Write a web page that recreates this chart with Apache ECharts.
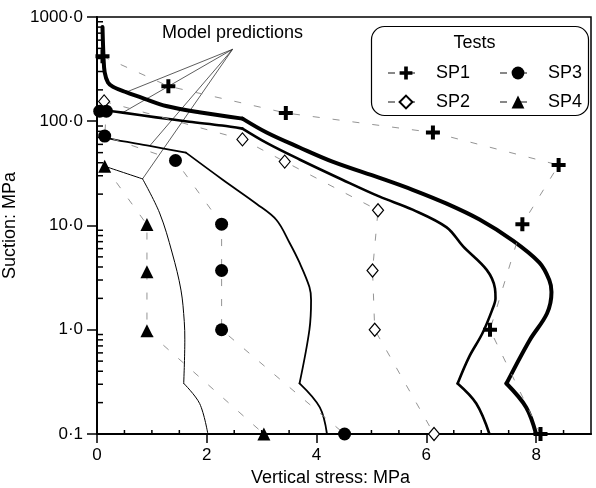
<!DOCTYPE html>
<html><head><meta charset="utf-8">
<script src="https://cdn.jsdelivr.net/npm/echarts@6/dist/echarts.min.js"></script>
<style>html,body{margin:0;padding:0;background:#fff}#c{width:596px;height:488px}</style>
</head><body><div id="c"></div>
<script>
// ---- tick labels ----
const xTickValues = [0, 2, 4, 6, 8];
const xMinorValues = [0.5, 1, 1.5, 2.5, 3, 3.5, 4.5, 5, 5.5, 6.5, 7, 7.5, 8.5];
const yTickValues = [0.1, 1, 10, 100, 1000];
const yMinorValues = [0.2,0.3,0.4,0.5,0.6,0.7,0.8,0.9, 2,3,4,5,6,7,8,9, 20,30,40,50,60,70,80,90, 200,300,400,500,600,700,800,900];

// ---- test series [vertical stress MPa, suction MPa] ----
const sp1 = [[0.10,420],[1.30,217],[3.44,120],[6.12,78],[8.41,38],[7.75,10.3],[7.16,1.0],[8.08,0.1]];
const sp2 = [[0.13,155],[2.65,67],[3.42,41],[5.12,14],[5.02,3.7],[5.06,1.0],[6.14,0.1]];
const sp3 = [[0.05,125],[0.17,125],[0.14,72],[1.43,42],[2.27,10.3],[2.27,3.7],[2.27,1.0],[4.51,0.1]];
const sp4 = [[0.14,37],[0.91,10.2],[0.91,3.6],[0.91,0.98],[3.04,0.1]];

// ---- model predictions ----
const modelSP1 = [[0.10,800],[0.12,400],[0.14,294],[0.20,235],[0.29,214],[0.53,190],[0.90,162],[1.26,140],[1.86,122],[2.65,106],[3.09,78],[3.69,56],[4.29,41],[5.15,28.6],[5.75,22],[6.37,16.2],[6.97,11.4],[7.57,7.2],[8.06,4.4],[8.24,3.0],[8.28,2.3],[8.20,1.44],[7.88,0.79],[7.46,0.305],[7.82,0.18],[8.00,0.1]];
const kinkSP1 = [9, 23];
const modelSP2 = [[0.16,127],[0.47,121],[1.08,109],[1.68,99],[2.28,91],[2.65,85],[3.09,62],[3.69,43],[4.47,27.5],[5.15,18.9],[5.75,14.2],[6.37,9.6],[6.67,6.3],[7.10,3.75],[7.25,2.5],[7.26,2.0],[7.20,1.55],[7.02,0.92],[6.78,0.55],[6.57,0.305],[6.91,0.196],[7.15,0.1]];
const kinkSP2 = [5, 19];
const modelSP3 = [[0.14,72],[0.23,68],[0.96,58],[1.62,50],[2.29,27.5],[2.91,16.1],[3.27,11.3],[3.51,6.8],[3.69,4.4],[3.87,2.57],[3.90,1.93],[3.87,1.0],[3.69,0.306],[4.06,0.18],[4.19,0.1]];
const kinkSP3 = [3, 12];
const modelSP4 = [[0.14,37],[0.83,28],[1.14,13.2],[1.37,5.45],[1.53,2.4],[1.59,1.2],[1.60,0.8],[1.58,0.306],[1.87,0.196],[2.02,0.1]];
const kinkSP4 = [1, 7];

// annotation: "Model predictions" pointer origin, and which model point each pointer reaches
const annotationOrigin = [2.47, 490];
const annotationTargets = [modelSP1[5], modelSP2[1], modelSP3[2], modelSP4[1]];

const FONT = '"Liberation Sans", Arial, Helvetica, sans-serif';
const PLUS = 'path://M5,0H9V5H14V9H9V14H5V9H0V5H5Z';

function segs(pts, kinks) {
  const c = [0, ...kinks, pts.length - 1];
  const out = [];
  for (let i = 0; i < c.length - 1; i++) out.push(pts.slice(c[i], c[i + 1] + 1));
  return out;
}

const series = [];
[[modelSP1, kinkSP1, 4], [modelSP2, kinkSP2, 2.6], [modelSP3, kinkSP3, 1.8], [modelSP4, kinkSP4, 1]].forEach(([d, k, w]) => {
  segs(d, k).forEach(seg => {
    series.push({
      type: 'line', data: seg, smooth: 0.35, showSymbol: false, silent: true, z: 2,
      lineStyle: { color: '#000', width: w, cap: 'round', join: 'round' }
    });
  });
});

series.push({
  type: 'lines', coordinateSystem: 'cartesian2d', silent: true, z: 2,
  data: annotationTargets.map(t => ({ coords: [annotationOrigin, t] })),
  lineStyle: { color: '#333', width: 0.8, opacity: 1 }
});

const dash = { color: '#888', width: 0.9, type: [7, 13] };
series.push(
  { name: 'SP1', type: 'line', data: sp1, symbol: PLUS, symbolSize: 14, showAllSymbol: true, z: 5,
    itemStyle: { color: '#000' }, lineStyle: dash },
  { name: 'SP2', type: 'line', data: sp2, symbol: 'diamond', symbolSize: [11, 13], showAllSymbol: true, z: 5,
    itemStyle: { color: '#fff', borderColor: '#000', borderWidth: 1.2 }, lineStyle: dash },
  { name: 'SP3', type: 'line', data: sp3, symbol: 'circle', symbolSize: 13, showAllSymbol: true, z: 5,
    itemStyle: { color: '#000' }, lineStyle: dash },
  { name: 'SP4', type: 'line', data: sp4, symbol: 'triangle', symbolSize: 13, showAllSymbol: true, z: 5,
    itemStyle: { color: '#000' }, lineStyle: dash }
);

// inward minor ticks, placed through the axes' own scales
series.push({
  type: 'custom', silent: true, z: 6, clip: false,
  data: xMinorValues.map(v => [v, yTickValues[0]]),
  renderItem: (params, api) => {
    const p = api.coord([api.value(0), api.value(1)]);
    return { type: 'line', shape: { x1: p[0], y1: p[1], x2: p[0], y2: p[1] - 4 }, style: { stroke: '#000', lineWidth: 1.5 } };
  }
});
series.push({
  type: 'custom', silent: true, z: 6, clip: false,
  data: yMinorValues.map(v => [xTickValues[0], v]),
  renderItem: (params, api) => {
    const p = api.coord([api.value(0), api.value(1)]);
    return { type: 'line', shape: { x1: p[0], y1: p[1], x2: p[0] + 6, y2: p[1] }, style: { stroke: '#000', lineWidth: 1.5 } };
  }
});

const legendBase = {
  orient: 'vertical', top: 59, itemWidth: 36, itemHeight: 16, itemGap: 11,
  textStyle: { fontSize: 18, color: '#000', fontFamily: FONT, padding: [0, 0, 0, 7] },
  selectedMode: false, z: 6
};

const option = {
  animation: false,
  backgroundColor: '#fff',
  grid: { left: 97, top: 17, right: 5, bottom: 54, containLabel: false, outerBoundsMode: 'none',
    show: true, backgroundColor: 'transparent', borderColor: '#000', borderWidth: 1.5 },
  xAxis: {
    type: 'value', min: 0, max: 9, position: 'bottom',
    name: 'Vertical stress: MPa', nameLocation: 'middle', nameGap: 33,
    nameTextStyle: { fontSize: 18, color: '#000', fontFamily: FONT, padding: [0, 27, 0, 0] },
    axisLine: { show: true, lineStyle: { color: '#000', width: 2 } },
    axisTick: { show: true, inside: false, length: 9, customValues: xTickValues, lineStyle: { color: '#000', width: 1.5 } },
    axisLabel: { show: true, customValues: xTickValues, margin: 13, fontSize: 17, color: '#000', fontFamily: FONT },
    splitLine: { show: false }
  },
  yAxis: {
    type: 'log', logBase: 10, min: 0.1, max: 1000, position: 'left',
    name: 'Suction: MPa', nameLocation: 'middle', nameGap: 64,
    nameTextStyle: { fontSize: 18, color: '#000', fontFamily: FONT },
    axisLine: { show: true, lineStyle: { color: '#000', width: 2 } },
    axisTick: { show: true, inside: false, length: 10, customValues: yTickValues, lineStyle: { color: '#000', width: 1.5 } },
    axisLabel: { show: true, customValues: yTickValues, margin: 14, fontSize: 17, color: '#000', fontFamily: FONT,
      formatter: v => (+v).toFixed(1).replace('.', '\u00B7') },
    splitLine: { show: false }, minorTick: { show: false }
  },
  legend: [
    Object.assign({}, legendBase, { left: 382, data: ['SP1', 'SP2'] }),
    Object.assign({}, legendBase, { left: 494, data: ['SP3', 'SP4'] })
  ],
  graphic: [
    { type: 'rect', z: 4, shape: { x: 371.5, y: 26.5, width: 217, height: 89, r: 13 },
      style: { fill: '#fff', stroke: '#000', lineWidth: 1.2 } },
    { type: 'text', z: 7, x: 474.5, y: 43, style: { text: 'Tests', fontSize: 18, fontFamily: FONT, fill: '#000', textAlign: 'center', textVerticalAlign: 'middle' } },
    { type: 'text', z: 7, x: 162, y: 33, style: { text: 'Model predictions', fontSize: 18, fontFamily: FONT, fill: '#000', textAlign: 'left', textVerticalAlign: 'middle' } }
  ],
  series: series
};

const chart = echarts.init(document.getElementById('c'));
chart.setOption(option);
</script>
</body></html>
